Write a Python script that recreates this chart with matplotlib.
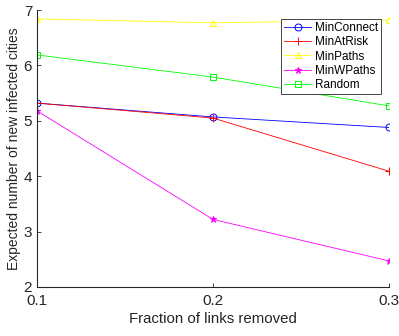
import numpy as np
import matplotlib.pyplot as plt

plt.rcParams['font.family'] = ['Liberation Sans', 'DejaVu Sans']

frac = [0.1, 0.2, 0.3]
min_connect = [5.32, 5.07, 4.88]
min_at_risk = [5.32, 5.05, 4.09]
min_paths = [6.84, 6.77, 6.82]
min_wpaths = [5.18, 3.22, 2.47]
random_rm = [6.19, 5.79, 5.27]

fig = plt.figure(figsize=(3.99, 3.36), dpi=100)
ax = fig.add_axes([0.0927, 0.146, 0.882, 0.824])

ax.plot(frac, min_connect, 'b-o', lw=0.6, ms=5, mfc='none', mew=0.7, label='MinConnect')
ax.plot(frac, min_at_risk, 'r-+', lw=0.6, ms=6, mew=0.7, label='MinAtRisk')
ax.plot(frac, min_paths, '-^', color=(1, 1, 0), lw=0.6, ms=5, mfc='none', mew=0.7, label='MinPaths')
ax.plot(frac, min_wpaths, '-*', color=(1, 0, 1), lw=0.6, ms=5, mew=0.7, label='MinWPaths')
ax.plot(frac, random_rm, '-s', color=(0, 1, 0), lw=0.6, ms=4, mfc='none', mew=0.7, label='Random')

ax.set_xlim(0.1, 0.3)
ax.set_ylim(2, 7)
ax.set_xticks([0.1, 0.2, 0.3])
ax.set_yticks([2, 3, 4, 5, 6, 7])
for s in ['top', 'right']:
    ax.spines[s].set_visible(False)
for s in ['left', 'bottom']:
    ax.spines[s].set_color('0.15')
    ax.spines[s].set_linewidth(0.8)
ax.tick_params(direction='in', length=3, width=0.6, colors='0.15', labelsize=11)
ax.tick_params(axis='x', pad=5)
ax.set_xlabel('Fraction of links removed', fontsize=10.8, color='0.15', labelpad=3)
ax.set_ylabel('Expected number of new infected cities', fontsize=10, color='0.15', labelpad=2)

leg = ax.legend(loc='upper right', bbox_to_anchor=(0.977, 0.968), fontsize=8.5,
                fancybox=False, edgecolor='0.15', framealpha=1,
                handlelength=2.3, borderpad=0.25, labelspacing=0.2,
                handletextpad=0.3, borderaxespad=0)
leg.get_frame().set_linewidth(0.6)

fig.savefig('out.png', dpi=100)
